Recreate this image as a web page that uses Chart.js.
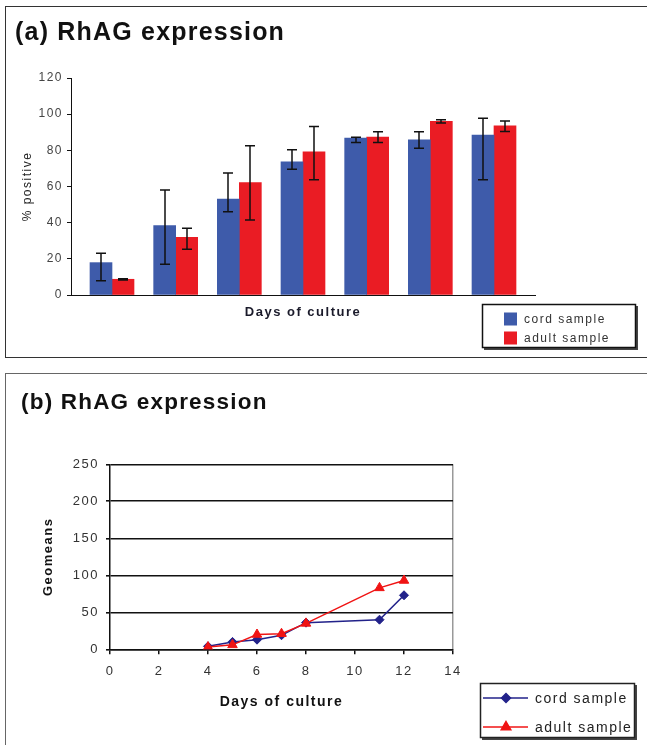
<!DOCTYPE html>
<html><head><meta charset="utf-8">
<script src="https://cdn.jsdelivr.net/npm/chart.js@4.4.1/dist/chart.umd.min.js"></script>
<style>
html,body{margin:0;padding:0;background:#fff;width:647px;height:745px;overflow:hidden;position:relative;}
.panel{position:absolute;box-sizing:border-box;}
#pa{left:5px;top:6px;width:700px;height:352px;border:1px solid #333;}
#pb{left:5px;top:373px;width:700px;height:420px;border:1px solid #666;}
canvas{position:absolute;left:0;}
#ca{top:0;}
#cb{top:372px;}
</style></head><body>
<div class="panel" id="pa"></div><div class="panel" id="pb"></div>
<canvas id="ca" width="647" height="358"></canvas>
<canvas id="cb" width="647" height="373"></canvas>
<script>
// ---- Panel (a) data: % positive by culture group ----
const groups    = [1, 2, 3, 4, 5, 6, 7];
const cordPct   = [17.9, 38.4, 53.0, 73.6, 86.8, 85.8, 88.4];
const cordLow   = [7.9, 17.0, 46.0, 69.6, 84.3, 81.2, 63.7];
const cordHigh  = [23.1, 58.1, 67.4, 80.3, 87.3, 90.3, 97.8];
const adultPct  = [8.7, 31.9, 62.2, 79.2, 87.3, 96.0, 93.6];
const adultLow  = [8.3, 25.3, 41.5, 63.7, 84.3, 95.1, 90.4];
const adultHigh = [9.0, 36.9, 82.5, 93.2, 90.3, 96.9, 96.2];
const yTicksA   = [0, 20, 40, 60, 80, 100, 120];

// ---- Panel (b) data: geomeans by day of culture ----
const days      = [4, 5, 6, 7, 8, 11, 12];
const cordGeo   = [4, 10, 13, 19, 36, 40, 73];
const adultGeo  = [3, 6, 20, 21, 35, 83, 93];
const yTicksB   = [0, 50, 100, 150, 200, 250];
const xTicksB   = [0, 2, 4, 6, 8, 10, 12, 14];

const FONT = "'Liberation Sans', Arial, Helvetica, sans-serif";
Chart.defaults.font.family = FONT;
Chart.defaults.animation = false;

const BLUE = '#3E5BAA', RED = '#EA1C24', NAVY = '#22228A', LRED = '#F01414';

function spacingPlugin(base, titlePx) {
  return {
    id: 'spacing',
    beforeDraw(c) {
      c.ctx.letterSpacing = base;
      const tb = c.titleBlock;
      if (tb && !tb.__patched) {
        const orig = tb.draw;
        tb.draw = function (...a) {
          const s = c.ctx.letterSpacing;
          c.ctx.letterSpacing = titlePx;
          orig.apply(this, a);
          c.ctx.letterSpacing = s;
        };
        tb.__patched = true;
      }
    }
  };
}

const errorBars = {
  id: 'errorBars',
  afterDatasetsDraw(chart) {
    const ctx = chart.ctx, y = chart.scales.y;
    const ranges = [[cordLow, cordHigh], [adultLow, adultHigh]];
    ctx.save();
    ctx.strokeStyle = '#111'; ctx.lineWidth = 1.5;
    ranges.forEach(([lo, hi], di) => {
      chart.getDatasetMeta(di).data.forEach((bar, i) => {
        const x = Math.round(bar.x);
        const y1 = y.getPixelForValue(hi[i]), y2 = y.getPixelForValue(lo[i]);
        ctx.beginPath();
        ctx.moveTo(x, y1); ctx.lineTo(x, y2);
        ctx.moveTo(x - 5, y1); ctx.lineTo(x + 5, y1);
        ctx.moveTo(x - 5, y2); ctx.lineTo(x + 5, y2);
        ctx.stroke();
      });
    });
    ctx.restore();
  }
};

const legendA = {
  id: 'legendA',
  afterDraw(chart) {
    const ctx = chart.ctx;
    ctx.save();
    ctx.fillStyle = '#444'; ctx.fillRect(484, 306, 154, 44);
    ctx.fillStyle = '#fff'; ctx.fillRect(482, 304, 154, 44);
    ctx.strokeStyle = '#111'; ctx.lineWidth = 1.5; ctx.strokeRect(482.5, 304.5, 153, 43);
    const ys = [319, 338];
    ctx.font = '12px ' + FONT; ctx.textBaseline = 'middle'; ctx.textAlign = 'left';
    chart.data.datasets.forEach((ds, i) => {
      ctx.fillStyle = ds.backgroundColor;
      ctx.fillRect(504, ys[i] - 6.5, 13, 13);
      ctx.fillStyle = '#333';
      ctx.fillText(ds.label, 524, ys[i] + 1);
    });
    ctx.restore();
  }
};

const legendB = {
  id: 'legendB',
  afterDraw(chart) {
    const ctx = chart.ctx;
    ctx.save();
    ctx.fillStyle = '#444'; ctx.fillRect(482, 313, 155, 55);
    ctx.fillStyle = '#fff'; ctx.fillRect(480, 311, 155, 55);
    ctx.strokeStyle = '#222'; ctx.lineWidth = 1.5; ctx.strokeRect(480.5, 311.5, 154, 54);
    const ys = [326, 355];
    ctx.font = '14px ' + FONT; ctx.textBaseline = 'middle'; ctx.textAlign = 'left';
    [0, 1].forEach((di, k) => {
      const ds = chart.data.datasets[di];
      ctx.strokeStyle = ds.borderColor; ctx.lineWidth = 1.5;
      ctx.beginPath(); ctx.moveTo(483, ys[k]); ctx.lineTo(528, ys[k]); ctx.stroke();
      ctx.fillStyle = ds.pointBackgroundColor; ctx.strokeStyle = ds.pointBorderColor;
      Chart.helpers.drawPoint(ctx, { pointStyle: ds.pointStyle, radius: ds.pointRadius, rotation: 0, borderWidth: 1 }, 506, ys[k]);
      ctx.fillStyle = '#222';
      ctx.fillText(ds.label, 535, ys[k] + 1);
    });
    ctx.restore();
  }
};

new Chart(document.getElementById('ca'), {
  type: 'bar',
  data: {
    datasets: [
      { label: 'cord sample', data: groups.map((g, i) => ({ x: g, y: cordPct[i] })), backgroundColor: BLUE, barThickness: 22 },
      { label: 'adult sample', data: groups.map((g, i) => ({ x: g, y: adultPct[i] })), backgroundColor: RED, barThickness: 22 }
    ]
  },
  options: {
    responsive: false, devicePixelRatio: 1, animation: false,
    layout: { padding: { left: 15, right: 112, top: 0, bottom: 0 } },
    plugins: {
      legend: { display: false }, tooltip: { enabled: false },
      title: { display: true, text: '(a) RhAG expression', align: 'start', color: '#111',
               font: { size: 25, weight: 'bold' }, padding: { top: 18.5, bottom: 29.5 } }
    },
    scales: {
      x: {
        type: 'linear', min: 0.356, max: 7.644, offset: false,
        ticks: { display: false }, grid: { display: false },
        border: { display: true, color: '#111', width: 1 },
        title: { display: true, text: 'Days of culture', color: '#1a1a2a',
                 font: { size: 13, weight: 'bold' }, padding: { top: 0, bottom: 38.2 } },
        afterFit: s => { s.height = 63; }
      },
      y: {
        min: 0, max: 120,
        afterBuildTicks: s => { s.ticks = yTicksA.map(v => ({ value: v })); },
        ticks: { color: '#444', font: { size: 12 }, padding: 4 },
        grid: { drawOnChartArea: false, color: '#111', tickLength: 4 },
        border: { display: true, color: '#111', width: 1 },
        title: { display: true, text: '% positive', color: '#222',
                 font: { size: 12 }, padding: { top: 5.8, bottom: 0 } },
        afterFit: s => { s.width = 56; }
      }
    }
  },
  plugins: [spacingPlugin('1.5px', '1.2px'), errorBars, legendA]
});

new Chart(document.getElementById('cb'), {
  type: 'line',
  data: {
    datasets: [
      { label: 'cord sample', order: 1, data: days.map((d, i) => ({ x: d, y: cordGeo[i] })),
        borderColor: NAVY, backgroundColor: NAVY, borderWidth: 1.5, tension: 0,
        pointStyle: 'rectRot', pointRadius: 4.5, pointBackgroundColor: NAVY, pointBorderColor: NAVY, pointBorderWidth: 1 },
      { label: 'adult sample', order: 0, data: days.map((d, i) => ({ x: d, y: adultGeo[i] })),
        borderColor: LRED, backgroundColor: LRED, borderWidth: 1.5, tension: 0,
        pointStyle: 'triangle', pointRadius: 5.5, pointBackgroundColor: LRED, pointBorderColor: LRED, pointBorderWidth: 1 }
    ]
  },
  options: {
    responsive: false, devicePixelRatio: 1, animation: false,
    layout: { padding: { left: 21, right: 194, top: 0, bottom: 0 } },
    plugins: {
      legend: { display: false }, tooltip: { enabled: false },
      title: { display: true, text: '(b) RhAG expression', align: 'start', color: '#111',
               font: { size: 22.5, weight: 'bold' }, padding: { top: 17.5, bottom: 47.8 } }
    },
    scales: {
      x: {
        type: 'linear', min: 0, max: 14,
        afterBuildTicks: s => { s.ticks = xTicksB.map(v => ({ value: v })); },
        ticks: { color: '#333', font: { size: 13 }, padding: 9 },
        grid: { color: c => (c.tick && c.tick.value === 14) ? '#999' : 'rgba(0,0,0,0)',
                tickColor: '#111', tickLength: 5, lineWidth: 1.5 },
        border: { display: true, color: '#111', width: 1.5 },
        title: { display: true, text: 'Days of culture', color: '#111',
                 font: { size: 14, weight: 'bold' }, padding: { top: 0, bottom: 34.6 } },
        afterFit: s => { s.height = 95.7; }
      },
      y: {
        min: 0, max: 250,
        afterBuildTicks: s => { s.ticks = yTicksB.map(v => ({ value: v })); },
        ticks: { color: '#333', font: { size: 13 }, padding: 7 },
        grid: { color: '#111', tickLength: 4, lineWidth: 1.6 },
        border: { display: true, color: '#111', width: 1.5 },
        title: { display: true, text: 'Geomeans', color: '#111',
                 font: { size: 13, weight: 'bold' }, padding: { top: 19.2, bottom: 0 } },
        afterFit: s => { s.width = 89; }
      }
    }
  },
  plugins: [spacingPlugin('1.5px', '1.2px'), legendB]
});
</script>
</body></html>
